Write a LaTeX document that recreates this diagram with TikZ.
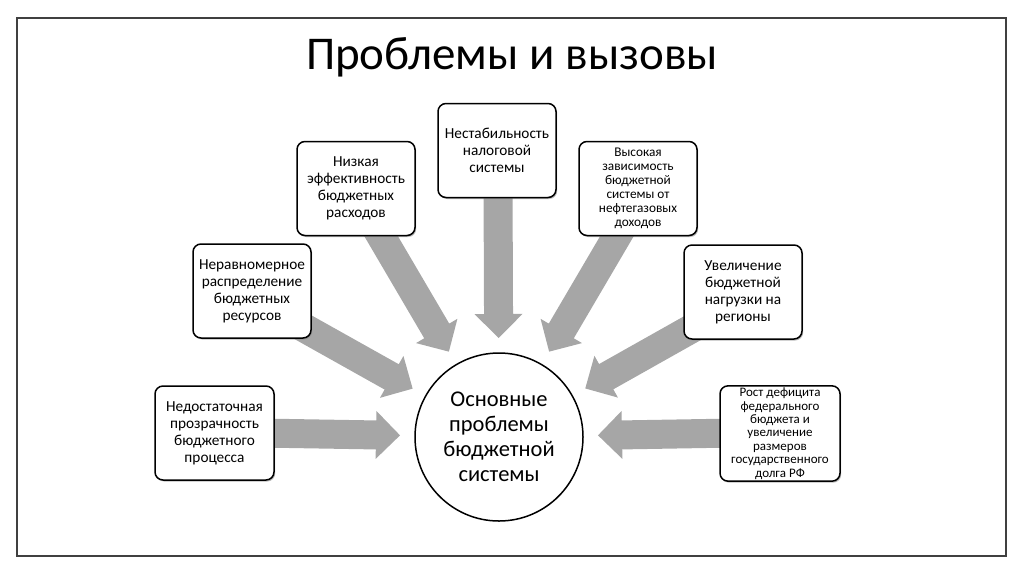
\documentclass[tikz,border=0pt]{standalone}
\usepackage{fontspec}
\setmainfont{Carlito}
\usetikzlibrary{calc,shadows}
\definecolor{arrowgray}{HTML}{A6A6A6}
\definecolor{framegray}{HTML}{404040}
\tikzset{
  probbox/.style={draw=black, fill=white, rounded corners=8pt, line width=1.5pt,
    align=center, inner sep=2pt, minimum width=118pt, minimum height=94pt,
    drop shadow={shadow xshift=1.2pt, shadow yshift=-1.5pt, fill=black!45, opacity=0.6},
    font=\fontsize{15.3}{17}\selectfont},
  maincircle/.style={draw=black, fill=white, circle, line width=1.5pt, minimum size=168pt,
    align=center, font=\fontsize{22.5}{25}\selectfont},
  blockarrow/.style={fill=arrowgray, draw=none}
}
\newcommand\blockarr[2]{%
  \coordinate (hh) at ($(#2)!24pt!(#1)$);
  \fill[blockarrow] ($(#1)!14.5pt!90:(#2)$) -- ($(hh)!14.5pt!-90:(#1)$) -- ($(hh)!24pt!-90:(#1)$) -- (#2)
    -- ($(hh)!24pt!90:(#1)$) -- ($(hh)!14.5pt!90:(#1)$) -- ($(#1)!14.5pt!-90:(#2)$) -- cycle;
}
\begin{document}
\begin{tikzpicture}[x=1pt,y=-1pt]
\useasboundingbox (0,0) rectangle (1024,574);
\draw[framegray, line width=1.3pt] (17,18) rectangle (1006,556);
\node (title) at (512,57) {\fontsize{47}{52}\selectfont Проблемы и вызовы};

\node[maincircle] (c) at (499,437) {Основные\\проблемы\\бюджетной\\системы};

% start points inside boxes
\coordinate (s1) at (260,433);
\coordinate (s2) at (283,316);
\coordinate (s3) at (371,219);
\coordinate (s4) at (498,180);
\coordinate (s5) at (627,219);
\coordinate (s6) at (714,316);
\coordinate (s7) at (735,433);
\foreach \i in {1,...,7}{
  \coordinate (t\i) at ($(c.center)!99pt!(s\i)$);
}
\foreach \i in {1,...,7}{
  \blockarr{s\i}{t\i}
}

\node[probbox, minimum width=119pt] (b1) at (214.5,433) {Недостаточная\\прозрачность\\бюджетного\\процесса};
\node[probbox] (b2) at (252,291) {Неравномерное\\распределение\\бюджетных\\ресурсов};
\node[probbox] (b3) at (356,188.5) {Низкая\\эффективность\\бюджетных\\расходов};
\node[probbox] (b4) at (497,150.5) {Нестабильность\\налоговой\\системы};
\node[probbox, font=\fontsize{13.3}{13.9}\selectfont] (b5) at (638,188.5) {Высокая\\зависимость\\бюджетной\\системы от\\нефтегазовых\\доходов};
\node[probbox] (b6) at (743,292) {Увеличение\\бюджетной\\нагрузки на\\регионы};
\node[probbox, minimum width=120pt, font=\fontsize{13}{13.4}\selectfont] (b7) at (780,433.5) {Рост дефицита\\федерального\\бюджета и\\увеличение\\размеров\\государственного\\долга РФ};
\end{tikzpicture}
\end{document}
